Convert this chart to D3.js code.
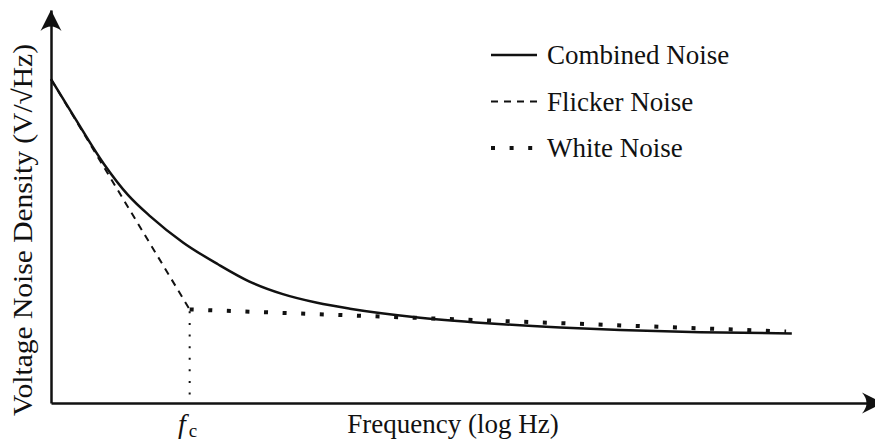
<!DOCTYPE html>
<html>
<head>
<meta charset="utf-8">
<script src="https://cdn.jsdelivr.net/npm/d3@7"></script>
<style>
  html, body { margin: 0; padding: 0; background: #fff; }
  svg { display: block; }
  text { font-family: "Liberation Serif", "Times New Roman", serif; fill: #111; }
</style>
</head>
<body>
<svg id="chart" width="875" height="441"></svg>
<script>
// Frequency samples (Hz) and combined noise density (nV/√Hz)
const combinedFreq = [1, 1.5, 2.4, 3.6, 5.2, 9, 16, 27, 47, 83, 143, 410, 1400, 4700, 12700, 48000, 220000];
const combinedNoise = [82.4, 72.3, 60.9, 52.9, 47.5, 40.8, 35.3, 30.9, 27.7, 25.5, 24.0, 21.9, 20.3, 19.2, 18.55, 18.0, 17.7];

// 1/f asymptote, down to the corner frequency
const flickerFreq = [1, 10];
const flickerNoise = [82.4, 23.8];

// White-noise floor, from the corner frequency upward
const whiteFreq = [10, 200000];
const whiteNoise = [23.8, 18.2];

const cornerFreq = 10;
const cornerNoise = 23.8;

const legendLabels = ["Combined Noise", "Flicker Noise", "White Noise"];
const xAxisLabel = "Frequency (log Hz)";
const yAxisLabel = "Voltage Noise Density (V/\u221AHz)";

const svg = d3.select("#chart");

const x = d3.scaleLog().domain([1, 1e6]).range([51, 883]);
const y = d3.scaleLinear().domain([0, 100]).range([403, 10]);

const styles = [
  { width: 2.5, dash: null },
  { width: 2, dash: "7 6" },
  { width: 4, dash: "4 14.6" }
];

const line = d3.line().x(d => x(d[0])).y(d => y(d[1]));

// Axes: bare domain lines ending in arrowheads
svg.append("g")
  .attr("transform", `translate(0,${y(0)})`)
  .call(d3.axisBottom(x).tickValues([]).tickSizeOuter(0));
svg.append("g")
  .attr("transform", `translate(${x(1)},0)`)
  .call(d3.axisLeft(y).tickValues([]).tickSizeOuter(0));
svg.selectAll(".domain").attr("stroke", "#111").attr("stroke-width", 2.5);

const arrow = "M0,0 L-21,-10.5 Q-12,0 -21,10.5 Z";
svg.append("path").attr("d", arrow).attr("fill", "#111")
  .attr("transform", `translate(${x(1e6)},${y(0)})`);
svg.append("path").attr("d", arrow).attr("fill", "#111")
  .attr("transform", `translate(${x(1)},${y(100)}) rotate(-90)`);

// Corner-frequency marker
svg.append("line")
  .attr("x1", x(cornerFreq)).attr("x2", x(cornerFreq))
  .attr("y1", y(cornerNoise)).attr("y2", y(1.5))
  .attr("stroke", "#111").attr("stroke-width", 2)
  .attr("stroke-dasharray", "2 9.6").attr("stroke-dashoffset", 9.7);

// White noise floor
svg.append("path")
  .datum(d3.zip(whiteFreq, whiteNoise))
  .attr("d", line)
  .attr("fill", "none").attr("stroke", "#111")
  .attr("stroke-width", styles[2].width).attr("stroke-dasharray", styles[2].dash);

// Flicker asymptote
svg.append("path")
  .datum(d3.zip(flickerFreq, flickerNoise))
  .attr("d", line)
  .attr("fill", "none").attr("stroke", "#111")
  .attr("stroke-width", styles[1].width).attr("stroke-dasharray", styles[1].dash);

// Combined noise curve
svg.append("path")
  .datum(d3.zip(combinedFreq, combinedNoise))
  .attr("d", line.curve(d3.curveMonotoneX))
  .attr("fill", "none").attr("stroke", "#111")
  .attr("stroke-width", styles[0].width);

// Legend
const legend = svg.append("g").selectAll("g")
  .data(legendLabels)
  .join("g")
  .attr("transform", (d, i) => `translate(491,${55 + i * 46.5})`);
legend.append("line")
  .attr("x1", 0).attr("x2", 46).attr("y1", 0).attr("y2", 0)
  .attr("stroke", "#111")
  .attr("stroke-width", (d, i) => styles[i].width)
  .attr("stroke-dasharray", (d, i) => styles[i].dash);
legend.append("text")
  .attr("x", 56).attr("y", 9)
  .attr("font-size", 27)
  .text(d => d);

// Axis titles
svg.append("text")
  .attr("x", 453).attr("y", 433)
  .attr("text-anchor", "middle")
  .attr("font-size", 27)
  .text(xAxisLabel);

svg.append("text")
  .attr("transform", "translate(32,230) rotate(-90)")
  .attr("text-anchor", "middle")
  .attr("font-size", 27)
  .attr("textLength", 372)
  .attr("lengthAdjust", "spacingAndGlyphs")
  .text(yAxisLabel);

// f_c label under the corner marker
const fc = svg.append("text")
  .attr("x", x(cornerFreq) - 2).attr("y", 433)
  .attr("text-anchor", "middle")
  .attr("font-size", 28);
fc.append("tspan").attr("font-style", "italic").text("f");
fc.append("tspan").attr("font-size", 19).attr("dy", 4).attr("dx", 3).text("c");
</script>
</body>
</html>
